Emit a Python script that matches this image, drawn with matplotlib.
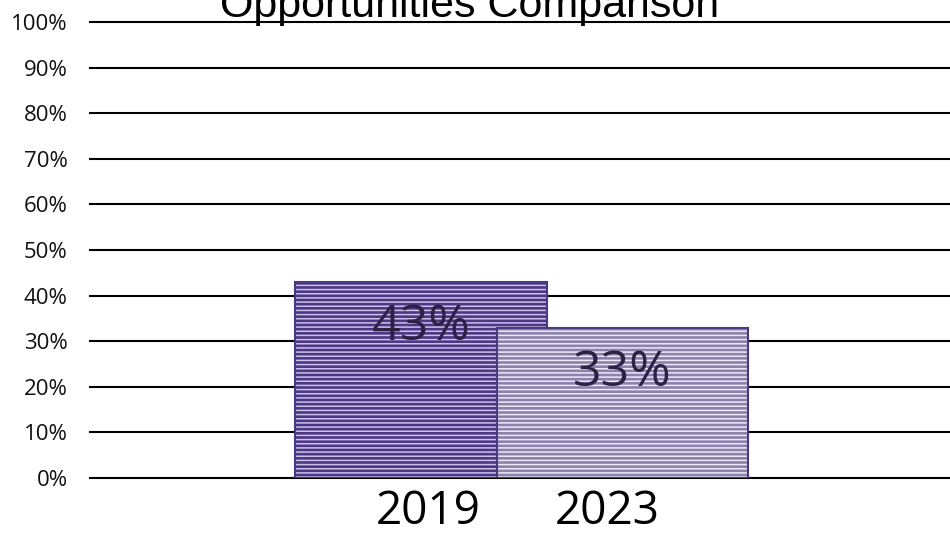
import matplotlib.pyplot as plt
import numpy as np

# datos
anios = ['2019', '2023']
valores = [43, 33]
etiquetas = ['43%', '33%']
ticks_y = list(range(0, 101, 10))

plt.rcParams['font.family'] = ['Open Sans', 'DejaVu Sans']
plt.rcParams['hatch.linewidth'] = 1.1

fig = plt.figure(figsize=(9.5, 5.36), dpi=100)
ax = fig.add_axes([90 / 950, (536 - 478) / 536, 860 / 950, 456 / 536])

x = np.array([0.0, 1.0])
ancho = 1.25
rellenos = ['#4B3783', '#8A82AD']
rayas = ['#CBC1EA', '#EDEAF6']

# primero el relleno rayado, luego el borde
for i in range(len(anios)):
    ax.bar(x[i], valores[i], width=ancho, color=rellenos[i], edgecolor=rayas[i],
           hatch='----', linewidth=0, zorder=3 + i)
    ax.bar(x[i], valores[i], width=ancho, fill=False, edgecolor='#4A3880',
           linewidth=1.5, zorder=3 + i)

# etiquetas de valores
for i in range(len(anios)):
    ax.text(x[i], valores[i] - 10, etiquetas[i], ha='center', va='center',
            fontsize=36, color='#2B2245', zorder=10)

ax.set_xlim(-1.647, 2.63)
ax.set_ylim(0, 100)
ax.set_yticks(ticks_y)
ax.set_yticklabels([f'{t}%' for t in ticks_y], fontsize=16, color='#111111')
# las etiquetas de los anios quedan un poco hacia el centro
ax.set_xticks(x + np.array([0.035, -0.075]))
ax.set_xticklabels(anios, fontsize=33)
ax.tick_params(axis='y', length=0, pad=16)
ax.tick_params(axis='x', length=0, pad=8)
ax.yaxis.grid(True, color='black', linewidth=1.5, zorder=0)
for linea in ax.get_ygridlines():
    linea.set_clip_on(False)
ax.set_axisbelow(True)
for s in ax.spines.values():
    s.set_visible(False)

fig.text(470 / 950, 1 - 17 / 536, 'Opportunities Comparison', ha='center',
         va='baseline', fontsize=31, family='Liberation Sans')

fig.savefig('out.png', dpi=100)
